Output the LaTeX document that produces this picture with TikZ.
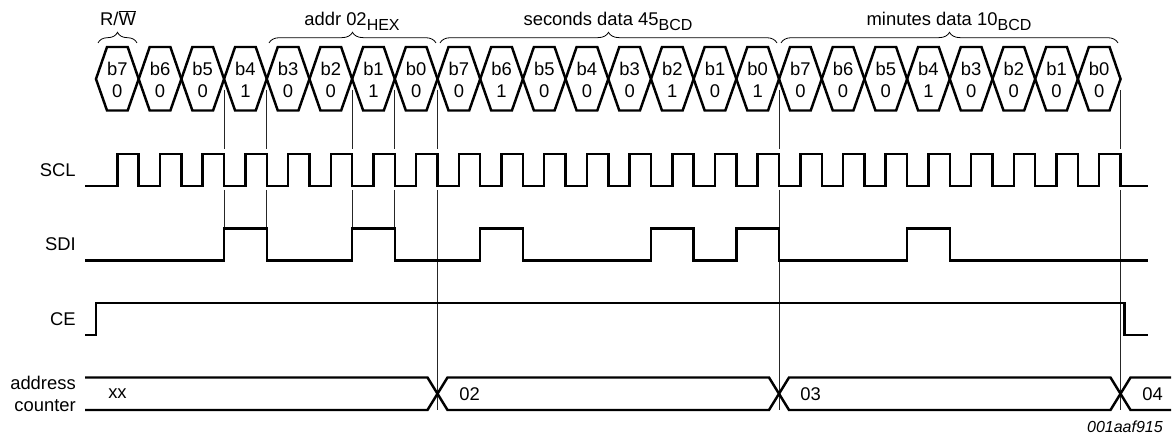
\documentclass[tikz,border=0pt]{standalone}
\usepackage{fontspec}
\setmainfont{Liberation Sans}
\usetikzlibrary{decorations.pathreplacing}
\def\bitw{42.69}
\newcommand{\subtxt}[1]{\raisebox{-3.4pt}{\fontsize{12}{14}\selectfont #1}}
\tikzset{
	signal/.style={line width=1.85pt,line join=miter},
	guide/.style={line width=0.5pt,black!85},
	bracket/.style={line width=0.6pt,decorate,decoration={brace,amplitude=8pt}},
	lbl/.style={font=\fontsize{13.8}{16.7}\selectfont,inner sep=0pt},
	signame/.style={lbl,anchor=east},
	bitcell/.style={lbl,align=center}
}
\begin{document}
\begin{tikzpicture}[x=0.75pt,y=-0.75pt]
	\useasboundingbox (0,0) rectangle (1172,438);
	% guide lines
	\foreach \k in {3,4,6,7} {
		\draw[guide] ({96+\bitw*\k},90) -- ({96+\bitw*\k},149);
		\draw[guide] ({96+\bitw*\k},190) -- ({96+\bitw*\k},228);
	}
	\foreach \k in {8,16,24} {
		\draw[guide] ({96+\bitw*\k},90) -- ({96+\bitw*\k},149);
		\draw[guide] ({96+\bitw*\k},190) -- ({96+\bitw*\k},410);
	}
	% bit cells
	\foreach \k/\b/\v in {0/b7/0,1/b6/0,2/b5/0,3/b4/1,4/b3/0,5/b2/0,6/b1/1,7/b0/0,
		8/b7/0,9/b6/1,10/b5/0,11/b4/0,12/b3/0,13/b2/1,14/b1/0,15/b0/1,
		16/b7/0,17/b6/0,18/b5/0,19/b4/1,20/b3/0,21/b2/0,22/b1/0,23/b0/0} {
		\draw[signal] ({96+\bitw*\k},79) -- ({107+\bitw*\k},47) -- ({127.69+\bitw*\k},47)
			-- ({138.69+\bitw*\k},79) -- ({127.69+\bitw*\k},110.5) -- ({107+\bitw*\k},110.5) -- cycle;
		\node[bitcell] (cell\k) at ({117.35+\bitw*\k},80) {\b\\\v};
	}
	% group brackets
	\draw[bracket] (98,43) -- (137,43);
	\draw[bracket] (269,43) -- (436,43);
	\draw[bracket] (440,43) -- (777,43);
	\draw[bracket] (781,43) -- (1118,43);
	\node[lbl,anchor=base] (rw) at (118,26) {R/\ensuremath{\overline{\mbox{W}}}};
	\node[lbl,anchor=base] (addr) at (352,26) {addr 02\subtxt{HEX}};
	\node[lbl,anchor=base] (seconds) at (608,26) {seconds data 45\subtxt{BCD}};
	\node[lbl,anchor=base] (minutes) at (949,26) {minutes data 10\subtxt{BCD}};
	% signals
	\node[signame] (scl) at (76,170) {SCL};
	\draw[signal] (85,186) \foreach \k in {0,...,23} {
		-- ({117.3+\bitw*\k},186) -- ({117.3+\bitw*\k},154) -- ({138.69+\bitw*\k},154) -- ({138.69+\bitw*\k},186)
	} -- (1148,186);
	\node[signame] (sdi) at (76,244) {SDI};
	\draw[signal] (85,260.5) \foreach \k in {3,6,9,13,15,19} {
		-- ({96+\bitw*\k},260.5) -- ({96+\bitw*\k},228.5) -- ({96+\bitw*(\k+1)},228.5) -- ({96+\bitw*(\k+1)},260.5)
	} -- (1148,260.5);
	\node[signame] (ce) at (76,319) {CE};
	\draw[signal] (85,335) -- (96,335) -- (96,303) -- (1124.5,303) -- (1124.5,335) -- (1148,335);
	\node[signame,align=right] (counter) at (76,394) {address\\counter};
	% address counter
	\draw[signal] (85,377.5) -- (427.5,377.5) -- (447.5,410) -- (769,410) -- (789,377.5) -- (1110.5,377.5) -- (1130.5,410) -- (1171,410);
	\draw[signal] (85,410) -- (427.5,410) -- (447.5,377.5) -- (769,377.5) -- (789,410) -- (1110.5,410) -- (1130.5,377.5) -- (1171,377.5);
	\node[lbl,anchor=west] (xx) at (108,394) {xx};
	\node[lbl,anchor=west] (a02) at (459,394) {02};
	\node[lbl,anchor=west] (a03) at (800,394) {03};
	\node[lbl,anchor=west] (a04) at (1142,394) {04};
	\node[inner sep=0pt,anchor=base east,font=\fontsize{12}{14}\selectfont\itshape] (code) at (1163,433) {001aaf915};
\end{tikzpicture}
\end{document}
